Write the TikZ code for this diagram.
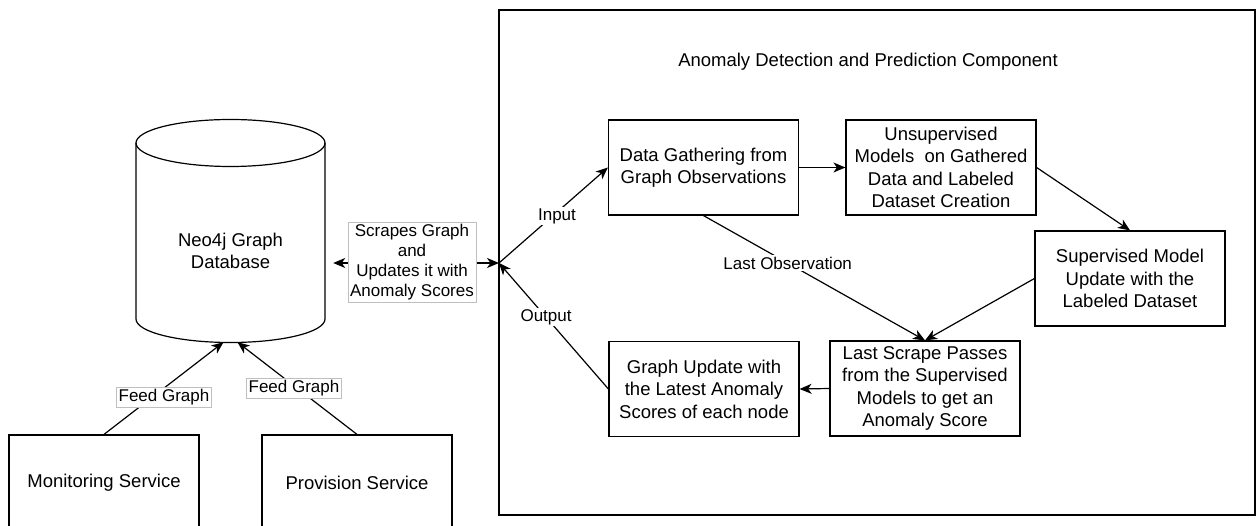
\documentclass[tikz,border=0pt]{standalone}
\usepackage{fontspec}
\setmainfont{Liberation Sans}
\usetikzlibrary{arrows.meta}
\newcommand\boxfont{\fontsize{18.5}{22.5}\selectfont}
\newcommand\lblfont{\fontsize{17}{20}\selectfont}
\begin{document}
\begin{tikzpicture}[x=1pt,y=-1pt,
  stepbox/.style={draw, line width=1.2pt, minimum width=190pt, minimum height=95pt,
                  align=center, font=\boxfont, inner sep=0pt},
  arr/.style={line width=1.2pt, -{Stealth[length=12pt,width=10pt,inset=3.5pt]}},
  biarr/.style={line width=1.2pt,
    {Stealth[length=12pt,width=10pt,inset=3.5pt]}-{Stealth[length=12pt,width=10pt,inset=3.5pt]}},
  edgelbl/.style={fill=white, font=\lblfont, inner sep=1.5pt, align=center},
  tagbox/.style={edgelbl, draw=black!25, line width=0.6pt, inner sep=2pt}]
\useasboundingbox (0,0) rectangle (1257,526);

% component frame and its title
\node[draw, line width=1.2pt, minimum width=756pt, minimum height=505pt, inner sep=0pt]
  (comp) at (877,262.5) {};
\node[font=\boxfont] (title) at (868,62) {Anomaly Detection and Prediction Component};

% graph database cylinder
\node[minimum width=189pt, minimum height=222pt, inner sep=0pt] (db) at (230.5,231) {};
\draw[line width=1.2pt] (136,143) -- (136,319)
  arc[start angle=180, end angle=0, x radius=94.5, y radius=23.5] -- (325,143);
\draw[line width=1.2pt] (230.5,143) ellipse[x radius=94.5, y radius=23.5];
\node[align=center, font=\boxfont] (dbtext) at (230.5,251) {Neo4j Graph\\Database};

% services feeding the graph
\node[stepbox, minimum height=96pt] (mon) at (104,483) {Monitoring Service};
\node[stepbox, minimum height=96pt] (prov) at (357,483) {Provision Service};

% pipeline steps
\node[stepbox] (dg) at (703.5,167.5) {Data Gathering from\\Graph Observations};
\node[stepbox] (us) at (941,167.5) {Unsupervised\\Models\ \ on Gathered\\Data and Labeled\\Dataset Creation};
\node[stepbox] (sm) at (1130,278.5) {Supervised Model\\Update with the\\Labeled Dataset};
\node[stepbox] (ls) at (925,388.5) {Last Scrape Passes\\from the Supervised\\Models to get an\\Anomaly Score};
\node[stepbox] (gu) at (704,389) {Graph Update with\\the Latest Anomaly\\Scores of each node};

% connectors
\coordinate (J) at (499,263);
\coordinate (dbR) at ([xshift=8pt]db.east);
\draw[arr] (mon.north) -- ([xshift=-7pt]db.south);
\draw[arr] (prov.north) -- ([xshift=7pt]db.south);
\draw[biarr] (dbR |- J) -- (J);
\draw[arr] (J) -- (dg.west);
\draw[arr] (gu.west) -- node[edgelbl, pos=0.57] (outlbl) {Output} (J);
\draw[arr] (dg.east) -- (us.west);
\draw[arr] (us.east) -- (sm.north);
\draw[arr] (sm.west) -- (ls.north);
\draw[arr] (dg.south) -- node[edgelbl, pos=0.38] (lastlbl) {Last Observation} (ls.north);
\draw[arr] (ls.west) -- (gu.east);

% connector labels
\node[tagbox] (fg1) at (164,397) {Feed Graph};
\node[tagbox] (fg2) at (294,388) {Feed Graph};
\node[tagbox] (scr) at (412,262.5) {Scrapes Graph\\and\\Updates it with\\Anomaly Scores};
\node[edgelbl] (inlbl) at (557,216) {Input};
\end{tikzpicture}
\end{document}
